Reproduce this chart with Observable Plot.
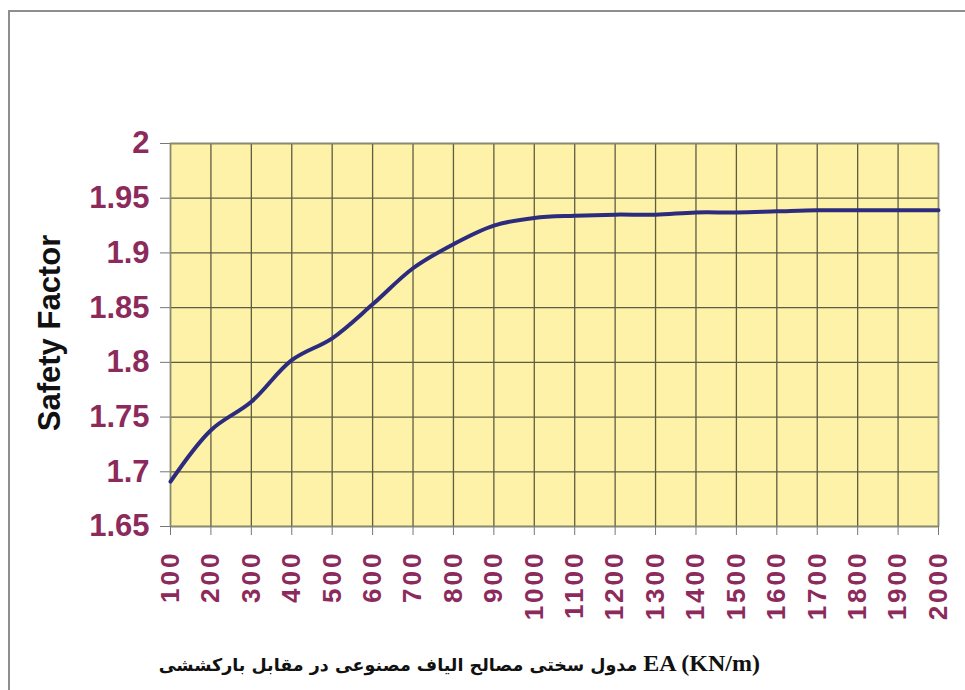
<!DOCTYPE html>
<html>
<head>
<meta charset="utf-8">
<script src="https://cdn.jsdelivr.net/npm/d3@7"></script>
<script src="https://cdn.jsdelivr.net/npm/@observablehq/plot@0.6"></script>
<style>
  html, body { margin: 0; padding: 0; background: #ffffff; }
  #page {
    position: relative;
    width: 965px;
    height: 690px;
    overflow: hidden;
  }
  #frame {
    position: absolute;
    left: 8px;
    top: 10px;
    width: 980px;
    height: 700px;
    border-left: 2px solid #8e8e8e;
    border-top: 2px solid #8e8e8e;
  }
  #chart { position: absolute; left: 0; top: 0; }
  #caption {
    position: absolute;
    top: 650px;
    right: 205px;
    direction: rtl;
    white-space: nowrap;
    font-family: "DejaVu Sans", sans-serif;
    font-weight: bold;
    font-size: 17.5px;
    color: #111;
  }
  #caption .latin {
    font-family: "Liberation Serif", "Times New Roman", serif;
    font-size: 24px;
  }
</style>
</head>
<body>
<div id="page">
  <div id="frame"></div>
  <div id="chart"></div>
  <div id="caption"><span class="latin" dir="ltr">EA (KN/m)</span> مدول سختی مصالح الیاف مصنوعی در مقابل بارکششی</div>
</div>
<script>
// Stiffness of the geosynthetic (EA, kN/m) against the computed safety factor
const eaValues = [100, 200, 300, 400, 500, 600, 700, 800, 900, 1000,
                  1100, 1200, 1300, 1400, 1500, 1600, 1700, 1800, 1900, 2000];
const safetyFactor = [1.691, 1.738, 1.764, 1.802, 1.822, 1.853, 1.886, 1.908, 1.925, 1.932,
                      1.934, 1.935, 1.935, 1.937, 1.937, 1.938, 1.939, 1.939, 1.939, 1.939];
const yTicks = [1.65, 1.7, 1.75, 1.8, 1.85, 1.9, 1.95, 2];
const yTitle = "Safety Factor";

const rows = eaValues.map((ea, i) => ({ea, sf: safetyFactor[i]}));

const labelColor = "#8c2a5c";
const gridColor = "#5e5d43";

const chart = Plot.plot({
  width: 965,
  height: 640,
  marginLeft: 170,
  marginRight: 27,
  marginTop: 143,
  marginBottom: 114,
  style: {
    background: "transparent",
    fontFamily: "'Liberation Sans', Arial, sans-serif",
    overflow: "visible"
  },
  x: {domain: [100, 2000]},
  y: {domain: [1.65, 2]},
  marks: [
    Plot.frame({fill: "#fdf2a8"}),
    Plot.gridX(eaValues, {stroke: gridColor, strokeOpacity: 1, strokeWidth: 1.3}),
    Plot.gridY(yTicks, {stroke: gridColor, strokeOpacity: 1, strokeWidth: 1.3}),
    Plot.frame({stroke: "#8a8a72", strokeWidth: 1.5}),
    Plot.axisY(yTicks, {
      tickSize: 10,
      tickPadding: 11,
      stroke: "#777",
      fill: labelColor,
      fontSize: 31,
      fontWeight: "bold",
      tickFormat: d => `${d}`,
      label: null
    }),
    Plot.axisX(eaValues, {
      tickSize: 9,
      tickPadding: 15,
      tickRotate: -90,
      stroke: "#777",
      fill: labelColor,
      fontSize: 26,
      fontWeight: "bold",
      tickFormat: d => `${d}`,
      label: null
    }),
    Plot.text([yTitle], {
      text: d => d,
      frameAnchor: "left",
      textAnchor: "middle",
      dx: -120,
      dy: -2,
      rotate: -90,
      fontSize: 31,
      fontWeight: "bold",
      fill: "#111"
    }),
    Plot.line(rows, {
      x: "ea",
      y: "sf",
      curve: "catmull-rom",
      stroke: "#2c2b7e",
      strokeWidth: 4
    })
  ]
});

// wider digit spacing on the rotated EA labels
chart.querySelectorAll("[aria-label='x-axis tick label'] text").forEach(t => {
  t.style.letterSpacing = "3px";
});

document.getElementById("chart").appendChild(chart);
</script>
</body>
</html>
